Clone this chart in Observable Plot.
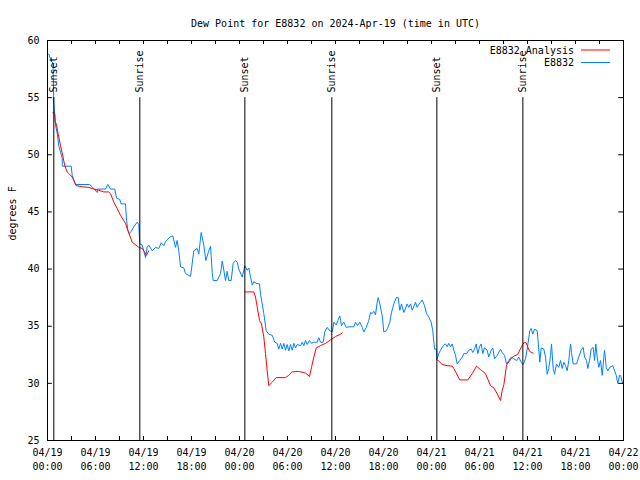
<!DOCTYPE html>
<html>
<head>
<meta charset="utf-8">
<script src="https://cdn.jsdelivr.net/npm/d3@7"></script>
<script src="https://cdn.jsdelivr.net/npm/@observablehq/plot@0.6"></script>
<style>
  html, body { margin: 0; padding: 0; background: #fff; }
</style>
</head>
<body>
<div id="chart"></div>
<script>
// ---- Data (hours since 2024-04-19 00:00 UTC, dew point in °F) ----
const titleText = "Dew Point for E8832 on 2024-Apr-19 (time in UTC)";
const yLabel = "degrees F";

const obsHours = [0.16,0.46,0.69,0.79,1.0,1.21,1.41,1.63,1.84,1.85,2.96,3.09,3.5,5.25,5.59,6.21,6.25,7.25,7.54,7.88,8.41,8.63,9.04,9.21,9.75,9.88,10.04,10.19,10.38,10.79,11.21,11.41,11.54,11.84,12.25,12.46,12.66,13.09,13.5,13.91,14.21,14.54,14.75,15.38,15.66,16.0,16.21,16.41,16.63,17.04,17.25,17.88,18.29,18.71,18.91,19.21,19.54,19.79,20.16,20.38,20.59,20.71,21.21,21.63,21.84,22.04,22.25,22.46,22.66,22.96,23.21,23.5,23.71,23.91,24.34,24.54,24.66,24.96,25.16,25.38,25.59,25.79,26.09,26.5,26.63,26.84,27.04,27.34,27.66,28.09,28.41,28.71,28.91,29.13,29.34,29.54,29.75,29.96,30.16,30.38,30.59,30.79,31.0,31.21,31.63,31.84,32.04,32.25,32.46,32.75,33.0,33.29,33.71,33.91,34.13,34.46,34.66,34.96,35.29,35.59,35.79,36.09,36.29,36.54,36.75,37.04,37.34,37.75,38.29,38.5,38.75,39.04,39.34,39.54,39.84,40.16,40.38,40.59,40.79,41.0,41.21,41.34,41.54,41.84,42.04,42.34,42.5,42.79,43.0,43.29,43.59,43.84,44.04,44.25,44.54,44.96,45.16,45.38,45.59,46.0,46.21,46.41,46.63,46.84,47.13,47.38,47.66,47.96,48.16,48.38,48.63,48.71,48.91,49.13,49.46,49.75,49.96,50.16,50.38,50.59,50.79,51.0,51.21,51.54,51.84,52.04,52.38,52.66,52.96,53.16,53.38,53.59,53.79,54.0,54.21,54.41,54.63,54.96,55.16,55.46,55.66,55.88,56.21,56.63,56.84,57.13,57.38,57.66,57.96,58.29,58.63,58.91,59.21,59.46,59.75,59.96,60.29,60.46,60.66,60.88,61.21,61.41,61.54,61.71,62.04,62.25,62.46,62.66,62.88,63.0,63.21,63.38,63.63,63.91,64.13,64.34,64.54,64.75,64.96,65.16,65.38,65.5,65.71,66.13,66.41,66.71,66.96,67.13,67.38,67.54,67.75,67.96,68.21,68.38,68.54,68.71,68.91,69.13,69.34,69.54,69.63,69.84,70.04,70.29,70.66,71.09,71.29,71.5,71.63,71.88];
const obsDewF = [58.8,58.25,58.0,54.5,52.6,51.9,50.8,50.2,49.7,49.0,49.0,48.2,47.4,47.4,47.2,46.7,47.0,47.0,47.4,47.0,47.0,46.2,46.1,45.7,45.7,44.25,43.4,43.1,43.2,43.7,44.1,43.9,42.2,42.1,41.0,41.9,42.1,41.6,41.9,41.8,42.3,42.05,42.4,42.85,42.9,41.9,42.5,41.6,40.2,40.1,39.6,39.35,41.6,41.8,41.3,43.2,42.1,40.75,41.6,42.0,39.7,39.0,39.0,39.6,40.7,39.9,39.0,39.8,39.0,39.0,40.5,40.75,40.6,40.0,39.3,39.9,40.3,39.9,40.1,39.3,38.6,38.9,38.75,38.7,37.8,36.95,36.1,34.6,34.3,34.2,33.6,33.5,33.0,33.5,33.0,33.5,32.9,33.4,32.85,33.4,32.9,33.5,33.1,33.4,33.3,33.6,33.3,33.75,33.4,33.75,33.5,33.6,33.6,34.0,33.6,33.6,34.5,34.9,34.6,34.5,35.35,35.1,35.5,35.9,35.05,35.35,34.9,34.95,34.95,35.35,35.05,35.35,34.9,34.5,34.9,35.5,36.2,36.1,36.3,36.0,37.1,37.5,36.95,35.9,34.5,34.6,34.8,35.35,36.2,36.95,37.5,37.5,36.4,36.95,36.2,36.95,36.65,36.95,36.4,37.1,36.65,36.9,37.1,37.3,36.8,36.1,35.8,35.35,34.6,33.0,33.0,32.15,32.6,32.9,33.3,33.45,33.2,33.5,33.2,33.45,32.9,32.45,31.7,32.0,32.3,32.6,32.6,32.9,33.0,32.7,33.0,33.45,32.6,33.2,33.45,32.6,33.1,32.9,32.3,32.9,33.1,32.15,32.45,33.0,32.7,32.45,31.7,32.0,32.3,32.15,32.0,32.3,31.85,31.65,32.15,33.0,34.6,34.8,34.3,34.75,34.6,33.0,31.85,33.1,33.0,32.3,30.8,31.3,32.45,33.45,31.3,30.8,31.7,31.4,32.0,31.3,31.85,31.55,31.1,32.0,33.45,32.7,31.7,31.7,32.3,32.9,33.15,32.3,32.0,31.3,32.0,33.0,33.15,32.0,33.45,32.3,31.4,32.0,30.7,32.3,32.9,31.4,31.1,31.4,31.55,30.7,30.0,30.7,30.7,30.0];

const anaHours = [0.66,0.91,0.94,1.13,1.34,1.63,1.91,2.16,2.46,2.75,3.09,3.29,3.59,4.34,5.16,5.79,6.41,7.04,7.66,7.88,8.29,8.71,9.13,9.75,10.04,10.59,11.41,11.84,12.13,12.38,12.54,12.66,
  24.66,25.79,26.0,26.21,26.5,26.75,27.04,27.25,27.46,27.66,28.09,28.59,29.75,30.16,30.59,31.41,32.25,32.75,33.0,33.29,33.59,34.13,34.75,35.38,36.0,36.63,36.84,
  48.63,48.91,49.34,49.96,50.59,50.79,51.54,52.54,53.09,53.63,54.13,54.75,55.38,55.79,56.21,56.63,56.84,57.05,57.38,57.69,58.0,58.33,58.75,59.1,59.4,59.61,59.83,60.25,60.68];
const anaDewF = [53.7,53.6,53.0,52.6,51.8,50.8,49.9,49.05,48.5,48.3,48.05,47.75,47.3,47.2,47.15,47.0,46.9,46.75,46.75,46.6,45.85,45.3,44.7,44.0,43.4,42.35,41.9,41.8,41.5,41.2,41.45,41.6,
  38.0,38.0,37.55,36.7,35.5,35.2,34.05,32.6,31.1,29.8,30.1,30.5,30.5,30.7,31.0,31.05,30.9,30.6,31.4,32.3,33.1,33.3,33.5,33.8,34.1,34.3,34.4,
  32.1,31.95,31.65,31.55,31.5,31.3,30.3,30.3,30.85,31.5,31.2,30.85,29.8,29.6,29.1,28.5,29.4,29.9,31.6,31.9,32.2,32.4,32.5,33.0,33.4,33.6,33.55,32.8,32.65];
const anaRun = [...Array(32).fill(1), ...Array(27).fill(2), ...Array(29).fill(3)];

const sunHours  = [0.79, 11.54, 24.67, 35.54, 48.67, 59.42];
const sunLabels = ["Sunset","Sunrise","Sunset","Sunrise","Sunset","Sunrise"];

const xLabelHours = [0,6,12,18,24,30,36,42,48,54,60,66,72];
const xMinorHours = d3.range(0, 73, 3);
const yTicks = [25,30,35,40,45,50,55,60];

const legendNames = ["E8832 Analysis", "E8832"];
const legendColors = ["#ff0000", "#0080ff"];

// ---- Build tables ----
const t0 = Date.UTC(2024, 3, 19, 0, 0);
const toDate = h => new Date(t0 + h * 3600e3);
const obs = obsHours.map((h, i) => ({t: toDate(h), v: obsDewF[i]}));
const ana = anaHours.map((h, i) => ({t: toDate(h), v: anaDewF[i], run: anaRun[i]}));
const sun = sunHours.map((h, i) => ({t: toDate(h), label: sunLabels[i]}));
const xLabels = xLabelHours.map(toDate);
const xMinor = xMinorHours.map(toDate);
const fmt = d3.utcFormat("%m/%d");
const fmt2 = d3.utcFormat("%H:%M");

const font = "'DejaVu Sans Mono', monospace";
const yMin = 25, yMax = 60;
const tickY = 0.35;              // inward tick length (data units ≈ 4px)
const tickXms = 0.6 * 3600e3;    // inward tick length for y ticks (≈ 5px)
const xStart = toDate(0), xEnd = toDate(72);

function legend(index, scales, values, dims) {
  const g = d3.create("svg:g").attr("font-family", font).attr("font-size", 10);
  const right = dims.width - dims.marginRight;
  legendNames.forEach((name, i) => {
    const y = dims.marginTop + 10 + i * 12.5;
    g.append("text")
      .attr("x", right - 49).attr("y", y).attr("dy", "0.35em")
      .attr("text-anchor", "end").attr("fill", "black")
      .text(name);
    g.append("line")
      .attr("x1", right - 42).attr("x2", right - 13)
      .attr("y1", y).attr("y2", y)
      .attr("stroke", legendColors[i]).attr("stroke-width", 1);
  });
  return g.node();
}

const chart = Plot.plot({
  width: 640,
  height: 480,
  marginLeft: 47,
  marginRight: 17,
  marginTop: 40,
  marginBottom: 40,
  style: {fontFamily: font, fontSize: "10px", background: "white", color: "black", overflow: "visible"},
  x: {type: "utc", domain: [xStart, xEnd], axis: null},
  y: {domain: [yMin, yMax], axis: null},
  marks: [
    // data
    Plot.line(obs, {x: "t", y: "v", stroke: "#0080ff", strokeWidth: 1}),
    Plot.line(ana, {x: "t", y: "v", z: "run", stroke: "#ff0000", strokeWidth: 1}),
    // sunrise / sunset
    Plot.ruleX(sun, {x: "t", y1: yMin, y2: 55, stroke: "black", strokeWidth: 1}),
    Plot.text(sun, {x: "t", y: 55.45, text: "label", rotate: -90, textAnchor: "start", fill: "black"}),
    // ticks (inward, mirrored)
    Plot.ruleX(xMinor, {x: d => d, y1: yMin, y2: yMin + tickY, stroke: "black"}),
    Plot.ruleX(xMinor, {x: d => d, y1: yMax, y2: yMax - tickY, stroke: "black"}),
    Plot.ruleY(yTicks, {y: d => d, x1: xStart, x2: new Date(+xStart + tickXms), stroke: "black"}),
    Plot.ruleY(yTicks, {y: d => d, x1: xEnd, x2: new Date(+xEnd - tickXms), stroke: "black"}),
    // tick labels
    Plot.axisY(yTicks, {anchor: "left", tickSize: 0, tickPadding: 8, fontSize: 10, label: null}),
    Plot.text(xLabels, {x: d => d, frameAnchor: "bottom", dy: 15, text: d => fmt(d), fill: "black"}),
    Plot.text(xLabels, {x: d => d, frameAnchor: "bottom", dy: 29, text: d => fmt2(d), fill: "black"}),
    // y label & title
    Plot.text([yLabel], {frameAnchor: "left", dx: -35, rotate: -90, text: d => d, fill: "black"}),
    Plot.text([titleText], {frameAnchor: "top", dy: -21, text: d => d, fill: "black"}),
    // frame & legend
    Plot.frame({stroke: "black"}),
    legend
  ]
});

document.getElementById("chart").appendChild(chart);
</script>
</body>
</html>
